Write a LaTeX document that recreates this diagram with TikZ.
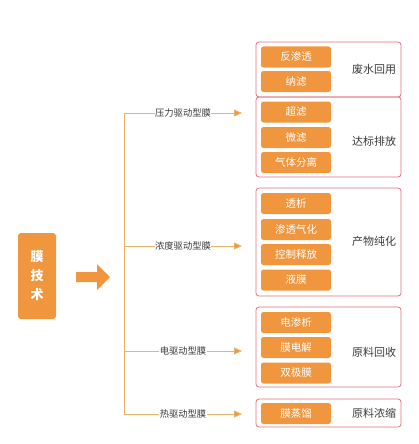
\documentclass[tikz,border=0pt]{standalone}
\usepackage{fontspec}
\setmainfont{Noto Sans CJK SC}
\usetikzlibrary{arrows.meta}
\definecolor{morange}{HTML}{F0963E}
\definecolor{mred}{HTML}{E0707E}
\definecolor{mline}{HTML}{E9B467}
\definecolor{mtext}{HTML}{3A3A3A}
\begin{document}
\begin{tikzpicture}[x=1pt,y=-1pt,
  item/.style={fill=morange, rounded corners=2.5pt, minimum width=70pt, minimum height=21pt, inner sep=0pt, text=white, font=\fontsize{10.5}{12}\selectfont},
  group/.style={draw=mred, line width=0.8pt, rounded corners=3pt, minimum width=145pt, inner sep=0pt},
  glabel/.style={text=mtext, font=\fontsize{11}{13}\selectfont, inner sep=0pt},
  branch/.style={draw=mline, line width=0.9pt, -{Triangle[length=8pt,width=7pt,fill=morange]}},
  blabel/.style={fill=white, text=mtext, font=\fontsize{9.3}{11}\selectfont, inner sep=0.5pt}
]
\useasboundingbox (0,0) rectangle (419,444);

% main box
\node[fill=morange, rounded corners=3pt, minimum width=38pt, minimum height=86pt, inner sep=0pt,
      text=white, font=\fontsize{13}{19}\selectfont\bfseries, align=center] (main) at (37,276) {膜\\技\\术};

% big arrow
\fill[morange] (76,272) -- (97,272) -- (97,264) -- (110,277) -- (97,290) -- (97,282) -- (76,282) -- cycle;

% trunk
\coordinate (ttop) at (124,113);
\coordinate (tc) at (124,246);
\coordinate (te) at (124,351);
\coordinate (tbot) at (124,414);
\draw[draw=mline, line width=0.9pt] (ttop) -- (tbot);

% branch ends
\coordinate (e1) at (242,113);
\coordinate (e2) at (242,246);
\coordinate (e3) at (242,351);
\coordinate (e4) at (242,414);

\draw[branch] (ttop) -- node[blabel]{压力驱动型膜} (e1);
\draw[branch] (tc) -- node[blabel]{浓度驱动型膜} (e2);
\draw[branch] (te) -- node[blabel]{电驱动型膜} (e3);
\draw[branch] (tbot) -- node[blabel]{热驱动型膜} (e4);

% groups
\node[group, minimum height=55pt] (g1) at (328.5,69.5) {};
\node[group, minimum height=80pt] (g2) at (328.5,137) {};
\node[group, minimum height=108pt] (g3) at (328.5,242) {};
\node[group, minimum height=80pt] (g4) at (328.5,347) {};
\node[group, minimum height=28pt] (g5) at (328.5,413) {};

% items
\node[item] (i1) at (296,57) {反渗透};
\node[item] (i2) at (296,81.5) {纳滤};
\node[item] (i3) at (296,112) {超滤};
\node[item] (i4) at (296,137.5) {微滤};
\node[item] (i5) at (296,162.5) {气体分离};
\node[item] (i6) at (296,203.5) {透析};
\node[item] (i7) at (296,229.5) {渗透气化};
\node[item] (i8) at (296,254.5) {控制释放};
\node[item] (i9) at (296,280) {液膜};
\node[item] (i10) at (296,322.5) {电渗析};
\node[item] (i11) at (296,347.5) {膜电解};
\node[item] (i12) at (296,373) {双极膜};
\node[item] (i13) at (296,413.5) {膜蒸馏};

% group labels
\node[glabel] (l1) at (374,69) {废水回用};
\node[glabel] (l2) at (374,141) {达标排放};
\node[glabel] (l3) at (374,241) {产物纯化};
\node[glabel] (l4) at (374,352) {原料回收};
\node[glabel] (l5) at (374,413) {原料浓缩};
\end{tikzpicture}
\end{document}
